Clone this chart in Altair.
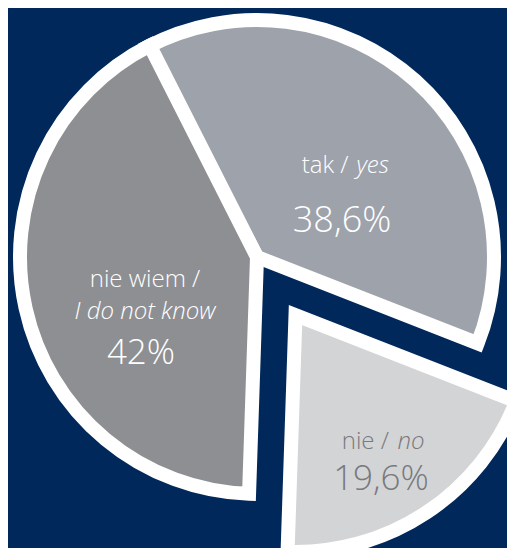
import math
import altair as alt
import pandas as pd

# ---- data ----
slices = ["tak", "nie", "nie wiem"]
labels_pl = ["tak /", "nie /", "nie wiem /"]
labels_en = ["yes", "no", "I do not know"]
values = [38.6, 19.6, 42.0]
value_labels = ["38,6%", "19,6%", "42%"]

ends = list(pd.Series(values).cumsum())
starts = [e - v for e, v in zip(ends, values)]
df = pd.DataFrame({
    "slice": slices, "pl": labels_pl, "en": labels_en,
    "value": values, "vlabel": value_labels,
    "start": starts, "end": ends,
})
df["mid"] = (df["start"] + df["end"]) / 2

# ---- style ----
BG = "#00285a"
colors = ["#9ea2ab", "#d3d4d6", "#8e8f93"]
FONT = "Open Sans"
START = math.radians(-27.6)
theta_scale = alt.Scale(domain=[0, 100], range=[START, START + 2 * math.pi])
color_scale = alt.Scale(domain=slices, range=colors)

CX, CY = 249, 249        # pie centre
EX, EY = 287.5, 307      # exploded slice centre
R = 237

base = alt.Chart(df)


def arcs(filt, x, y):
    return base.transform_filter(filt).mark_arc(
        radius=R, stroke="white", strokeWidth=14, strokeJoin="miter"
    ).encode(
        theta=alt.Theta("start:Q", scale=theta_scale, stack=None),
        theta2="end:Q",
        color=alt.Color("slice:N", scale=color_scale, legend=None),
        x=alt.value(x), y=alt.value(y),
    )


def label(name, field, x, y, r, dx, dy, size, color, align="center", italic=False):
    return base.transform_filter(alt.datum.slice == name).mark_text(
        radius=r, dx=dx, dy=dy, fontSize=size, font=FONT, fontWeight=300,
        fontStyle="italic" if italic else "normal", align=align,
        baseline="alphabetic", color=color,
    ).encode(
        theta=alt.Theta("mid:Q", scale=theta_scale, stack=None),
        text=alt.Text(f"{field}:N"),
        x=alt.value(x), y=alt.value(y),
    )


W = "#ffffff"
G = "#78797e"
layers = [
    arcs(alt.datum.slice != "nie", CX, CY),
    arcs(alt.datum.slice == "nie", EX, EY),
    # tak / yes
    label("tak", "pl", CX, CY, 110, 18.0, -2, 24, W, align="right"),
    label("tak", "en", CX, CY, 110, 26.0, -2, 24, W, align="left", italic=True),
    label("tak", "vlabel", CX, CY, 110, 11.6, 57, 36, W),
    # nie wiem / I do not know
    label("nie wiem", "pl", CX, CY, 110, -4.6, 6.2, 24, W),
    label("nie wiem", "en", CX, CY, 110, -4.6, 38.2, 24, W, italic=True),
    label("nie wiem", "vlabel", CX, CY, 110, -8.6, 83.2, 35, W),
    # nie / no
    label("nie", "pl", EX, EY, 160, 5.5, 0, 24, G, align="right"),
    label("nie", "en", EX, EY, 160, 14.0, 0, 24, G, align="left", italic=True),
    label("nie", "vlabel", EX, EY, 160, -2.5, 41.4, 35, G),
]

chart = alt.layer(*layers).properties(
    width=499, height=540, padding=0,
    autosize=alt.AutoSizeParams(type="none"),
    background=BG,
).configure_view(stroke=None)

chart.save("out.html", embed_options={"renderer": "svg", "actions": False})
